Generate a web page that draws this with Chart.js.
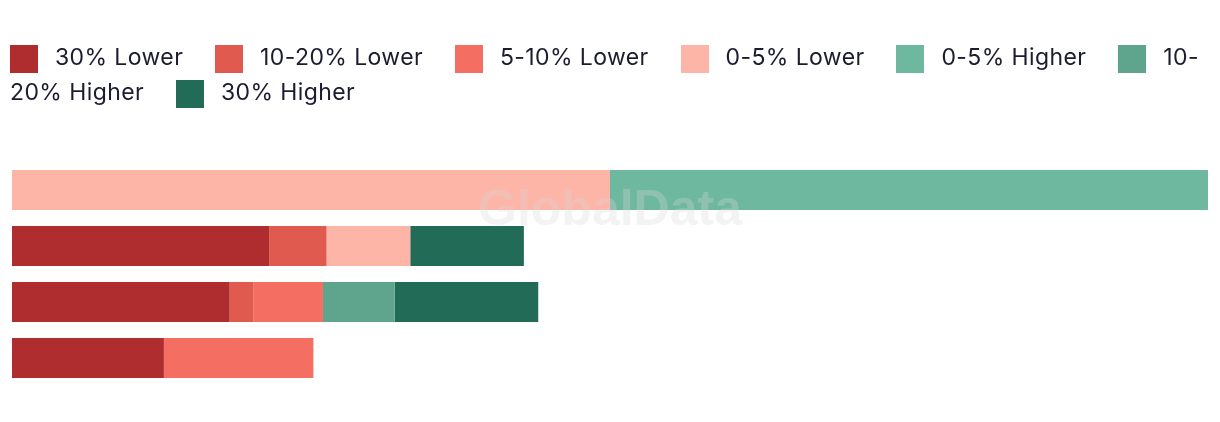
<!DOCTYPE html>
<html>
<head>
<meta charset="utf-8">
<script src="https://cdn.jsdelivr.net/npm/chart.js@4"></script>
<style>
  html, body { margin: 0; padding: 0; background: #fff; }
  #wrap { position: relative; width: 1220px; height: 422px; }
  #legend {
    position: absolute; left: 10px; top: 40px; width: 1200px;
    font-family: Inter, "Noto Sans", sans-serif; font-size: 23px;
    letter-spacing: 0.4px; line-height: 35px; color: #1c1c30;
  }
  #legend .item { margin-right: 25px; }
  #legend .box {
    display: inline-block; width: 28px; height: 28px;
    vertical-align: -8px; margin-right: 17px;
  }
</style>
</head>
<body>
<div id="wrap">
  <canvas id="myChart" width="1220" height="422"></canvas>
  <div id="legend"></div>
</div>
<script>
const categories = ["Row 1", "Row 2", "Row 3", "Row 4"];
const seriesNames = ["30% Lower", "10-20% Lower", "5-10% Lower", "0-5% Lower", "0-5% Higher", "10-20% Higher", "30% Higher"];
const seriesColors = ["#af2c2f", "#e05a4f", "#f46e62", "#fdb5a7", "#6fb8a0", "#5fa58e", "#216b57"];

const lower30 = [0, 21.5, 18.2, 12.7];
const lower10to20 = [0, 4.8, 2.0, 0];
const lower5to10 = [0, 0, 5.8, 12.5];
const lower0to5 = [50, 7.0, 0, 0];
const higher0to5 = [50, 0, 0, 0];
const higher10to20 = [0, 0, 6.0, 0];
const higher30 = [0, 9.5, 12.0, 0];

const seriesValues = [lower30, lower10to20, lower5to10, lower0to5, higher0to5, higher10to20, higher30];

// faint watermark in the middle of the canvas
const watermark = {
  id: "watermark",
  afterDatasetsDraw(chart) {
    const ctx = chart.ctx;
    ctx.save();
    ctx.font = "bold 50px 'Liberation Sans', Arial, sans-serif";
    ctx.fillStyle = "rgba(215, 215, 215, 0.3)";
    ctx.textAlign = "center";
    ctx.textBaseline = "middle";
    ctx.fillText("GlobalData", chart.width / 2, 211);
    ctx.restore();
  }
};

// html legend so the labels wrap like the original
const htmlLegend = {
  id: "htmlLegend",
  afterUpdate(chart) {
    const box = document.getElementById("legend");
    box.innerHTML = chart.data.datasets.map((ds) =>
      `<span class="item"><span class="box" style="background:${ds.backgroundColor}"></span>${ds.label}</span>`
    ).join(" ");
  }
};

const config = {
  type: "bar",
  data: {
    labels: categories,
    datasets: seriesNames.map((name, i) => ({
      label: name,
      data: seriesValues[i],
      backgroundColor: seriesColors[i],
      borderWidth: 0,
      categoryPercentage: 1,
      barPercentage: 40 / 56
    }))
  },
  options: {
    indexAxis: "y",
    responsive: false,
    animation: false,
    layout: { padding: { top: 162, bottom: 36, left: 12, right: 12 } },
    scales: {
      x: { stacked: true, display: false, min: 0, max: 100 },
      y: { stacked: true, display: false }
    },
    plugins: {
      legend: { display: false },
      tooltip: { enabled: false }
    }
  },
  plugins: [watermark, htmlLegend]
};

const chart = new Chart(document.getElementById("myChart"), config);
</script>
</body>
</html>
